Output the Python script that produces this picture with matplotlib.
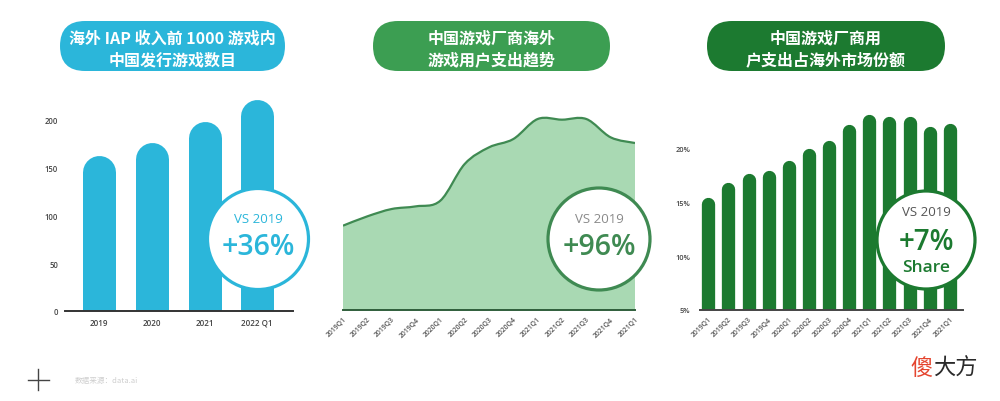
import matplotlib
matplotlib.use("Agg")
import matplotlib.pyplot as plt
import numpy as np
from matplotlib.patches import FancyBboxPatch, Circle, PathPatch
from matplotlib.path import Path
from matplotlib.transforms import offset_copy

plt.rcParams['font.family'] = ['Open Sans', 'Noto Sans CJK SC', 'DejaVu Sans']

# ---------------- data ----------------
p1_categories = ["2019", "2020", "2021", "2022 Q1"]
p1_values = [162, 176, 197, 220]
p1_yticks = [0, 50, 100, 150, 200]

quarters = ["2019Q1", "2019Q2", "2019Q3", "2019Q4", "2020Q1", "2020Q2", "2020Q3",
            "2020Q4", "2021Q1", "2021Q2", "2021Q3", "2021Q4", "2021Q1"]
p2_values = [2.53, 2.81, 3.03, 3.11, 3.28, 4.38, 4.88, 5.13, 5.73, 5.71, 5.73, 5.18, 5.01]
p3_values = [15.5, 16.9, 17.7, 18.0, 18.95, 20.05, 20.8, 22.3, 23.2, 23.0, 23.0, 22.05, 22.4]
p3_yticks = [5, 10, 15, 20]

titles = [["海外 IAP 收入前 1000 游戏内", "中国发行游戏数目"],
          ["中国游戏厂商海外", "游戏用户支出趋势"],
          ["中国游戏厂商用", "户支出占海外市场份额"]]

CYAN = "#2BB6DA"
GREEN = "#3C9E52"
DKGREEN = "#1C7A30"
FILLG = "#A9D9B3"
LINEG = "#3F8A52"

W, H = 1000, 402
fig = plt.figure(figsize=(10, 4.02), dpi=100)
fig.patch.set_facecolor("white")


def px_axes(x0, x1, ytop, ybot):
    return fig.add_axes([x0 / W, (H - ybot) / H, (x1 - x0) / W, (ybot - ytop) / H])


def style_axes(ax, spine_color):
    for s in ["top", "right", "left"]:
        ax.spines[s].set_visible(False)
    ax.spines["bottom"].set_color(spine_color)
    ax.spines["bottom"].set_linewidth(1.4)
    ax.set_facecolor("none")


# ---------------- panel 1 ----------------
ax1 = px_axes(65, 293, 90, 312)
style_axes(ax1, "#333333")
ax1.set_ylim(0, 222 / 0.96)
ax1.set_xlim(-0.65, 3.68)
bw1 = 33 * 72 / 100.0
tr1 = offset_copy(ax1.transData, fig=fig, y=-bw1 / 2, units="points")
x1 = np.arange(len(p1_values))
for xi, v in zip(x1, p1_values):
    ax1.plot([xi, xi], [-40, v], color=CYAN, lw=bw1, solid_capstyle="round",
             transform=tr1, clip_on=True)
ax1.set_xticks(x1)
ax1.set_xticklabels(p1_categories, fontsize=5.8, color="#444444", fontweight="semibold")
ax1.set_yticks(p1_yticks)
ax1.set_yticklabels([str(t) for t in p1_yticks], fontsize=5.5, color="#444444",
                    fontweight="semibold")
ax1.tick_params(axis="both", length=0)
ax1.tick_params(axis="x", pad=5)
ax1.tick_params(axis="y", pad=5)

# ---------------- panel 2 ----------------
ax2 = px_axes(343, 635, 100, 311)
style_axes(ax2, "#2F5E3B")
ax2.set_xlim(0, 12)
ax2.set_ylim(0, 211 / 33.33)
xs = np.arange(len(p2_values), dtype=float)
pts = np.column_stack([xs, p2_values])
ext = np.vstack([pts[0], pts, pts[-1]])
verts = [tuple(pts[0])]
codes = [Path.MOVETO]
for i in range(len(pts) - 1):
    p0, p1, p2, p3 = ext[i], ext[i + 1], ext[i + 2], ext[i + 3]
    c1 = p1 + (p2 - p0) / 6.0
    c2 = p2 - (p3 - p1) / 6.0
    verts += [tuple(c1), tuple(c2), tuple(p2)]
    codes += [Path.CURVE4] * 3
line_path = Path(verts, codes)
fill_verts = [(xs[0], 0)] + verts + [(xs[-1], 0), (xs[0], 0)]
fill_codes = [Path.MOVETO, Path.LINETO] + codes[1:] + [Path.LINETO, Path.CLOSEPOLY]
ax2.add_patch(PathPatch(Path(fill_verts, fill_codes), facecolor=FILLG, edgecolor="none"))
ax2.add_patch(PathPatch(line_path, facecolor="none", edgecolor=LINEG, lw=1.6))
ax2.set_xticks(xs)
ax2.set_xticklabels(quarters, fontsize=5, color="#555555", rotation=45, ha="right",
                    va="top", rotation_mode="anchor", fontweight="semibold")
ax2.set_yticks([])
ax2.tick_params(axis="x", length=0, pad=4)

# ---------------- panel 3 ----------------
ax3 = px_axes(700, 963, 100, 311)
style_axes(ax3, "#444444")
ax3.set_ylim(5, 5 + 211 / 10.75)
ax3.set_xlim(-0.41, 12.65)
bw3 = 13.3 * 72 / 100.0
tr3 = offset_copy(ax3.transData, fig=fig, y=-bw3 / 2, units="points")
x3 = np.arange(len(p3_values))
for xi, v in zip(x3, p3_values):
    ax3.plot([xi, xi], [0, v], color=DKGREEN, lw=bw3, solid_capstyle="round",
             transform=tr3, clip_on=True)
ax3.set_xticks(x3)
ax3.set_xticklabels(quarters, fontsize=5, color="#555555", rotation=45, ha="right",
                    va="top", rotation_mode="anchor", fontweight="semibold")
ax3.set_yticks(p3_yticks)
ax3.set_yticklabels([f"{t}%" for t in p3_yticks], fontsize=5.3, color="#444444",
                    fontweight="semibold")
ax3.tick_params(axis="both", length=0)
ax3.tick_params(axis="x", pad=4)
ax3.tick_params(axis="y", pad=7)

# ---------------- overlay ----------------
ov = fig.add_axes([0, 0, 1, 1], zorder=10)
ov.set_xlim(0, W)
ov.set_ylim(H, 0)
ov.axis("off")
ov.patch.set_alpha(0)

pills = [(35, 310, CYAN), (348, 635, GREEN), (682, 970, DKGREEN)]
for (px0, px1, col), (l1, l2) in zip(pills, titles):
    ov.add_patch(FancyBboxPatch((px0 + 25, 22), px1 - px0 - 50, 50,
                                boxstyle="round,pad=0,rounding_size=25",
                                facecolor=col, edgecolor="none"))
    cx = (px0 + px1) / 2
    ov.text(cx, 38.5, l1, ha="center", va="center", color="white", fontsize=11.5,
            fontweight="bold", family=["Noto Sans CJK SC", "DejaVu Sans"])
    ov.text(cx, 60, l2, ha="center", va="center", color="white", fontsize=11.5,
            fontweight="bold", family=["Noto Sans CJK SC", "DejaVu Sans"])

# circles
ov.add_patch(Circle((258, 240), 50.5, facecolor="white", edgecolor=CYAN, lw=2.3))
ov.text(258, 220, "VS 2019", ha="center", va="center", color=CYAN, fontsize=9.5)
ov.text(258, 248, "+36%", ha="center", va="center", color=CYAN, fontsize=20.5,
        fontweight="semibold")

ov.add_patch(Circle((599, 240), 51, facecolor="white", edgecolor=LINEG, lw=2.3))
ov.text(599, 220, "VS 2019", ha="center", va="center", color="#8A8A8A", fontsize=9.5)
ov.text(599, 248, "+96%", ha="center", va="center", color=LINEG, fontsize=20.5,
        fontweight="semibold")

ov.add_patch(Circle((926, 241), 49, facecolor="white", edgecolor=DKGREEN, lw=2.3))
ov.text(926, 213, "VS 2019", ha="center", va="center", color="#555555", fontsize=9.5)
ov.text(926, 243, "+7%", ha="center", va="center", color=DKGREEN, fontsize=20,
        fontweight="semibold")
ov.text(926, 268, "Share", ha="center", va="center", color=DKGREEN, fontsize=12.5,
        fontweight="semibold")

# footer
ov.plot([27.5, 48.5], [380.7, 380.7], color="#444444", lw=1)
ov.plot([38.3, 38.3], [370, 391], color="#444444", lw=1)
ov.text(75, 381, "数据来源：data.ai", ha="left", va="center", color="#CFCFCF",
        fontsize=5.5, family=["Noto Sans CJK SC", "DejaVu Sans"])

ov.text(933, 368, "傻", ha="right", va="center", color="#E5452F", fontsize=16,
        family=["Noto Sans CJK SC", "DejaVu Sans"])
ov.text(933, 368, "大方", ha="left", va="center", color="#2A2A2A", fontsize=16,
        family=["Noto Sans CJK SC", "DejaVu Sans"])

fig.savefig("out.png", dpi=100, facecolor="white")
